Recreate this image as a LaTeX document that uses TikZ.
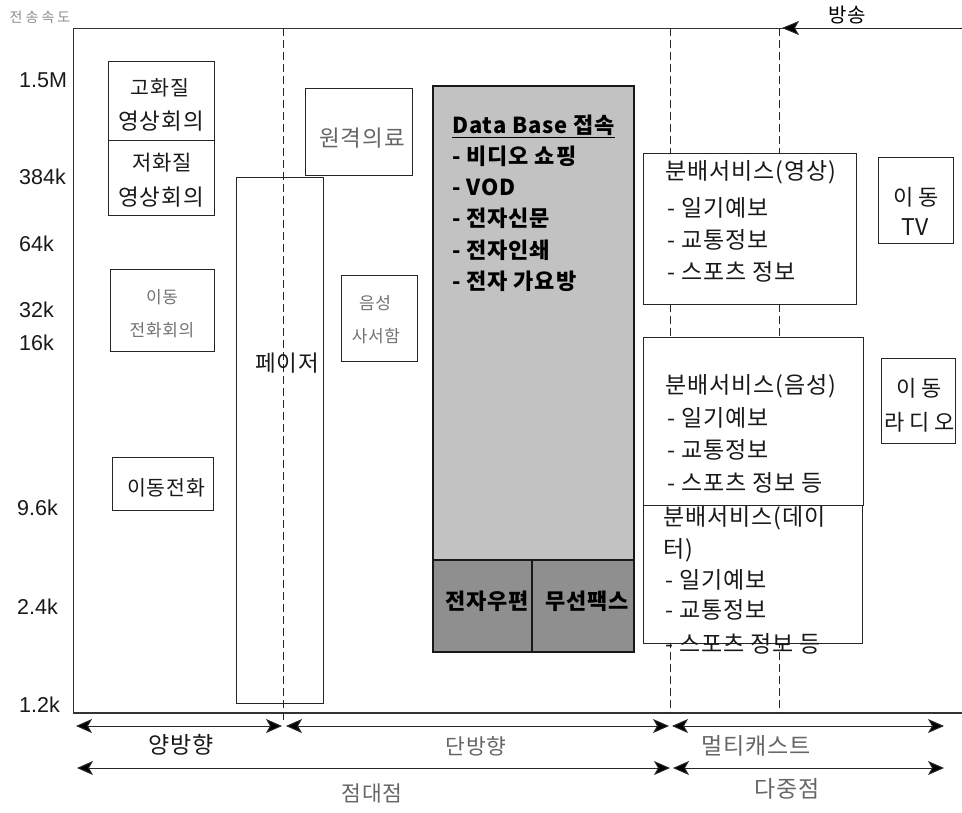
\documentclass[tikz,border=0pt]{standalone}
\usepackage{fontspec}
\setmainfont{Liberation Sans}
\newfontfamily\kr[LetterSpace=4]{Noto Sans CJK KR}
\newfontfamily\krw[LetterSpace=22]{Noto Sans CJK KR}
\usetikzlibrary{arrows.meta}
\begin{document}
\begin{tikzpicture}[x=1pt,y=-1pt,
  box/.style={draw=black!85, line width=0.9pt, fill=white, inner sep=0pt, anchor=north west},
  txt/.style={font=\kr\fontsize{#1}{#1}\selectfont, inner sep=0pt, text=black!90},
  txt/.default=21,
  wtxt/.style={font=\krw\fontsize{#1}{#1}\selectfont, inner sep=0pt, text=black!90},
  wtxt/.default=21,
  stxt/.style={font=\kr\fontsize{17}{17}\selectfont, inner sep=0pt, text=black!55},
  ltxt/.style={txt=#1, text=black!60},
  ltxt/.default=21,
  lst/.style={txt=23, anchor=west},
  dbt/.style={font=\kr\bfseries\fontsize{22}{22}\selectfont, inner sep=0pt, anchor=west, text=black},
  axl/.style={font=\fontsize{21.5}{21.5}\selectfont, anchor=west, inner sep=0pt, text=black!90},
  dashv/.style={draw=black!85, line width=0.9pt, dash pattern=on 8pt off 4pt},
  dbl/.style={draw=black!85, line width=1pt, {Stealth[length=16pt,width=14pt,inset=4pt,fill=black]}-{Stealth[length=16pt,width=14pt,inset=4pt,fill=black]}}
]
\useasboundingbox (0,0) rectangle (962,812);

% axes
\coordinate (Ytop) at (73,28);
\coordinate (O) at (73,713);
\coordinate (Xend) at (962,713);
\coordinate (Tend) at (962,28);
\coordinate (bc) at (782,28);
\draw[black!80, line width=0.8pt] (Tend) -- (Ytop) -- (O);
\draw[black!80, line width=1.4pt] (O) -- (Xend);
\draw[black!85, line width=1pt, -{Stealth[length=17pt,width=14pt,inset=4pt,fill=black]}] (Tend) -- (bc);
\node[font=\kr\fontsize{20}{20}\selectfont, inner sep=0pt] (bs) at (847,15) {방송};
\node[font=\krw\fontsize{14}{14}\selectfont, inner sep=0pt, text=black!45] (ys) at (40,17) {전송속도};

% axis labels
\node[axl] (l1) at (19,80) {1.5M};
\node[axl] (l2) at (19,177) {384k};
\node[axl] (l3) at (19,244) {64k};
\node[axl] (l4) at (19,310) {32k};
\node[axl] (l5) at (19,343) {16k};
\node[axl] (l6) at (17,508) {9.6k};
\node[axl] (l7) at (17,607) {2.4k};
\node[axl] (l8) at (19,705) {1.2k};

% dashed separators
\coordinate (d1t) at (283,28); \coordinate (d1b) at (283,724);
\coordinate (d2t) at (670,28); \coordinate (d2b) at (670,713);
\coordinate (d3t) at (779,28); \coordinate (d3b) at (779,713);
\draw[dashv] (d1t) -- (d1b);
\draw[dashv] (d2t) -- (d2b);
\draw[dashv] (d3t) -- (d3b);

% left boxes
\node[box, minimum width=106pt, minimum height=79pt] (hq) at (108,61) {};
\node[box, minimum width=106pt, minimum height=75pt] (lq) at (108,140) {};
\node[txt=20.5] (thq1) at (160,88) {고화질};
\node[txt=22.5] (thq2) at (161,121) {영상회의};
\node[txt=21] (tlq1) at (162,163) {저화질};
\node[txt=22.5] (tlq2) at (161,197) {영상회의};
\node[box, minimum width=104pt, minimum height=82pt] (mtc) at (110,269) {};
\node[stxt] (tmtc1) at (162,297) {이동};
\node[stxt] (tmtc2) at (162,330) {전화회의};
\node[box, minimum width=101pt, minimum height=53pt] (mp) at (112,457) {};
\node[txt=20.5] (tmp) at (166,488) {이동전화};

% pager
\node[box, fill=none, minimum width=87pt, minimum height=526pt] (pg) at (236,177) {};
\node[txt=22.5] (tpg) at (287,363) {페이저};

% remote medical, voice mail
\node[box, minimum width=107pt, minimum height=87pt] (rm) at (305,88) {};
\node[ltxt=22.5] (trm) at (362,138) {원격의료};
\node[box, minimum width=76pt, minimum height=86pt] (vm) at (341,275) {};
\node[stxt] (tvm1) at (375,303) {음성};
\node[stxt] (tvm2) at (376,336) {사서함};

% database box
\node[box, fill=black!24, line width=1.6pt, draw=black!90, minimum width=201pt, minimum height=566pt] (db) at (432,85) {};
\node[box, fill=black!44, line width=1.6pt, draw=black!90, minimum width=201pt, minimum height=92pt] (dbb) at (432,559) {};
\draw[black!90, line width=1.6pt] ([xshift=-1.5pt]dbb.north) -- ([xshift=-1.5pt]dbb.south);
\node[dbt] (db0) at (452,125) {Data Base 접속};
\draw[black, line width=1.4pt] ([yshift=-2pt]db0.south west) -- ([yshift=-2pt]db0.south east);
\node[dbt] (db1) at (452,156) {- 비디오 쇼핑};
\node[dbt] (db2) at (452,187) {- VOD};
\node[dbt] (db3) at (452,218) {- 전자신문};
\node[dbt] (db4) at (452,250) {- 전자인쇄};
\node[dbt] (db5) at (452,281) {- 전자 가요방};
\node[dbt, anchor=center] (dbm) at (487,601) {전자우편};
\node[dbt, anchor=center] (dbf) at (587,601) {무선팩스};

% distribution services
\node[box, minimum width=213pt, minimum height=151pt] (dv) at (643,153) {};
\node[lst] (dv0) at (665,172) {분배서비스(영상)};
\node[lst] (dv1) at (667,208) {- 일기예보};
\node[lst] (dv2) at (667,240) {- 교통정보};
\node[lst] (dv3) at (667,272) {- 스포츠 정보};

\node[box, minimum width=220pt, minimum height=168pt] (da) at (643,337) {};
\node[lst] (da0) at (665,386) {분배서비스(음성)};
\node[lst] (da1) at (667,418) {- 일기예보};
\node[lst] (da2) at (667,450) {- 교통정보};
\node[lst] (da3) at (667,483) {- 스포츠 정보 등};

\node[box, fill=white, minimum width=219pt, minimum height=138pt] (dd) at (643,505) {};
\node[lst] (dd0) at (663,518) {분배서비스(데이};
\node[lst] (dd0b) at (663,550) {터)};
\node[lst] (dd1) at (665,580) {- 일기예보};
\node[lst] (dd2) at (665,610) {- 교통정보};
\node[lst] (dd3) at (665,644) {- 스포츠 정보 등};

% mobile TV / radio
\node[box, minimum width=75pt, minimum height=86pt] (mtv) at (878,157) {};
\node[wtxt=22] (tmtv1) at (916,197) {이동};
\node[txt=23] (tmtv2) at (915,227) {TV};
\node[box, minimum width=74pt, minimum height=85pt] (mr) at (881,358) {};
\node[wtxt=22] (tmr1) at (919,388) {이동};
\node[wtxt=22] (tmr2) at (920,422) {라디오};

% bottom range arrows
\coordinate (a1) at (76,726); \coordinate (a2) at (282,726);
\coordinate (a3) at (286,726); \coordinate (a4) at (669,726);
\coordinate (a5) at (672,726); \coordinate (a6) at (944,726);
\coordinate (b1) at (77,768); \coordinate (b2) at (670,768);
\coordinate (b3) at (673,768); \coordinate (b4) at (944,768);
\draw[dbl] (a1) -- (a2);
\draw[dbl] (a3) -- (a4);
\draw[dbl] (a5) -- (a6);
\draw[dbl] (b1) -- (b2);
\draw[dbl] (b3) -- (b4);
\node[txt=23] (r1) at (181,745) {양방향};
\node[ltxt=21.5] (r2) at (476,746) {단방향};
\node[ltxt=23] (r3) at (756,746) {멀티캐스트};
\node[ltxt=21.5] (r4) at (372,793) {점대점};
\node[ltxt=23] (r5) at (787,789) {다중점};
\end{tikzpicture}
\end{document}
